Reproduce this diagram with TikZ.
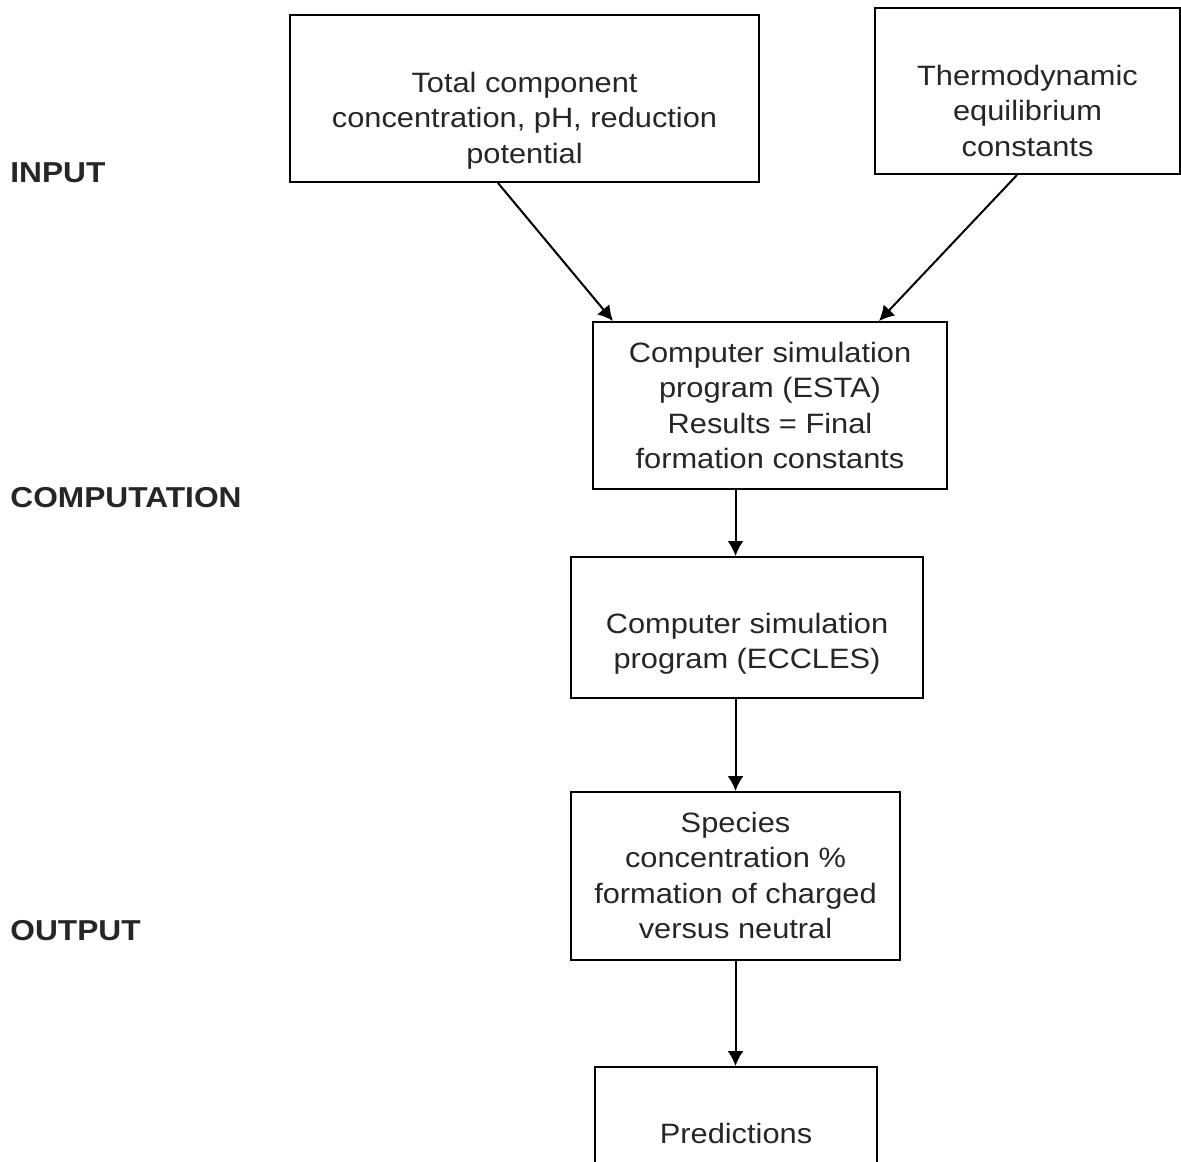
\documentclass[tikz,border=0pt]{standalone}
\usepackage{fontspec}
\setmainfont{Liberation Sans}[FakeStretch=1.1]
\usetikzlibrary{arrows.meta}
\tikzset{
  box/.style={
    draw, line width=1pt,
    inner xsep=0pt, inner ysep=0pt,
    align=center,
    font=\fontsize{14pt}{17.75pt}\selectfont,
  },
  stage/.style={
    anchor=west, inner sep=0pt,
    font=\fontsize{14.4pt}{17pt}\selectfont\bfseries,
  },
  arrow/.style={
    -{Latex[length=7.5pt,width=8pt]},
    line width=1pt,
  },
}

\begin{document}
\begin{tikzpicture}[x=0.5pt, y=-0.5pt, text=black!85]
\clip (0,0) rectangle (1181,1161);

\node[box, minimum width=234.5pt, text height=74pt, text depth=9.5pt] (conc) at (524.5,98.5)
  {Total component\\concentration, pH, reduction\\potential};
\node[box, minimum width=152.5pt, text height=74pt, text depth=9pt] (thermo) at (1027.5,91)
  {Thermodynamic\\equilibrium\\constants};
\node[box, minimum width=177pt, text height=73.25pt, text depth=10.25pt] (esta) at (770,405.5)
  {Computer simulation\\program (ESTA)\\Results = Final\\formation constants};
\node[box, minimum width=176pt, text height=55.75pt, text depth=14.75pt] (eccles) at (747,627.5)
  {Computer simulation\\program (ECCLES)};
\node[box, minimum width=164.5pt, text height=73.25pt, text depth=10.75pt] (species) at (735.5,876)
  {Species\\concentration \%\\formation of charged\\versus neutral};
\node[box, minimum width=141pt, text height=38pt, text depth=38.5pt] (pred) at (736,1143.5)
  {Predictions};

\node[stage] (input) at (10,173) {INPUT};
\node[stage] (comp) at (10,498) {COMPUTATION};
\node[stage] (output) at (10,931) {OUTPUT};

\draw[arrow] ([xshift=-13.25pt]conc.south) -- ([xshift=-78.5pt]esta.north);
\draw[arrow] ([xshift=-5.25pt]thermo.south) -- ([xshift=54.5pt]esta.north);
\draw[arrow] (esta.south -| species.north) -- (eccles.north -| species.north);
\draw[arrow] (eccles.south -| species.north) -- (species.north);
\draw[arrow] (species.south) -- (species.south |- pred.north);
\end{tikzpicture}
\end{document}
